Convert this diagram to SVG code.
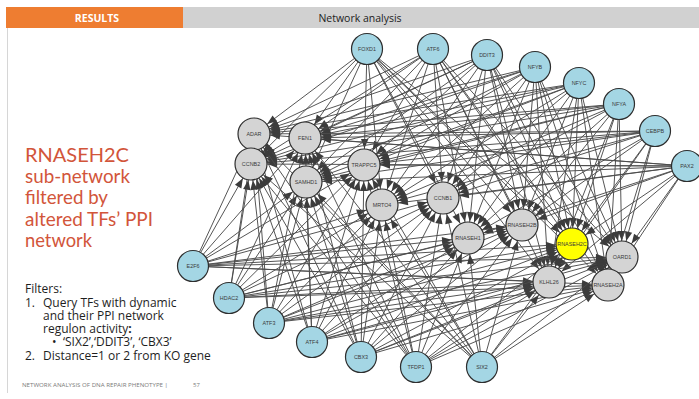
<svg xmlns="http://www.w3.org/2000/svg" width="699" height="399" viewBox="0 0 699 399">
<defs>
<marker id="arr" markerUnits="userSpaceOnUse" markerWidth="10" markerHeight="8" refX="26" refY="3.7" orient="auto" overflow="visible">
<path d="M0,0L9.5,3.7L0,7.4z" fill="#3c3c3c"/>
</marker>
</defs>
<style>
.hd{font-family:"Open Sans","Liberation Sans",sans-serif;font-size:10.5px}
.ttl{font-family:Lato,"Open Sans","Liberation Sans",sans-serif;font-size:20px;fill:#d2553a}
.flt{font-family:"Open Sans","Liberation Sans",sans-serif;font-size:12px;fill:#1e1e1e}
.ft{font-family:"Open Sans","Liberation Sans",sans-serif;font-size:6px;fill:#7a7a7a}
#connectors path{fill:none;stroke:#4c4c4c;stroke-width:0.95;marker-end:url(#arr)}
.tf circle{fill:#a4d6e4;stroke:#2e2e2e;stroke-width:1.2}
.gn circle{fill:#d4d4d4;stroke:#2e2e2e;stroke-width:1.2}
.ko circle{fill:#ffff00;stroke:#2e2e2e;stroke-width:1.2}
.node text{font-family:"Liberation Sans",Arial,sans-serif;font-size:5.4px;fill:#3a3a3a;text-anchor:middle}
</style>
<rect width="699" height="399" fill="#ffffff"/>
<!-- header bar -->
<rect x="6" y="7" width="177" height="21" fill="#ee7d31"/>
<rect x="183" y="7" width="516" height="21" fill="#d1d1d1"/>
<text class="hd" x="97" y="21.5" text-anchor="middle" fill="#ffffff" font-weight="bold">RESULTS</text>
<text class="hd" x="360" y="21.5" text-anchor="middle" fill="#222222">Network analysis</text>
<line x1="7.5" y1="28" x2="7.5" y2="393" stroke="#d6d6d6" stroke-width="1"/>
<!-- title -->
<text class="ttl" x="25" y="162" textLength="104" lengthAdjust="spacingAndGlyphs">RNASEH2C</text>
<text class="ttl" x="25" y="183" textLength="105" lengthAdjust="spacingAndGlyphs">sub-network</text>
<text class="ttl" x="25" y="204" textLength="83" lengthAdjust="spacingAndGlyphs">filtered by</text>
<text class="ttl" x="25" y="225.5" textLength="128" lengthAdjust="spacingAndGlyphs">altered TFs’ PPI</text>
<text class="ttl" x="25" y="247" textLength="67" lengthAdjust="spacingAndGlyphs">network</text>
<!-- filters -->
<text class="flt" x="25" y="293">Filters:</text>
<text class="flt" x="25" y="306.5">1.</text>
<text class="flt" x="43" y="306.5">Query TFs with dynamic</text>
<text class="flt" x="43" y="320">and their PPI network</text>
<text class="flt" x="43" y="333">regulon activity<tspan font-weight="bold">:</tspan></text>
<text class="flt" x="52" y="346">•</text>
<text class="flt" x="63" y="346">‘SIX2’,‘DDIT3’, ‘CBX3’</text>
<text class="flt" x="25" y="360">2.</text>
<text class="flt" x="43" y="360">Distance=1 or 2 from KO gene</text>
<!-- footer -->
<text class="ft" x="22" y="386.5" textLength="146" lengthAdjust="spacingAndGlyphs">NETWORK ANALYSIS OF DNA REPAIR PHENOTYPE |</text>
<text class="ft" x="193" y="386.5">57</text>
<!-- edges: every transcription factor to each target -->
<g id="connectors">
<path d="M367 49L254 134"/><path d="M367 49L305 138"/><path d="M367 49L251 164"/><path d="M367 49L364 165"/><path d="M367 49L306 182"/><path d="M367 49L382 205"/><path d="M367 49L443 198"/><path d="M367 49L468 238"/><path d="M367 49L522 225"/><path d="M367 49L572 244"/><path d="M367 49L622 257"/><path d="M367 49L549 282"/><path d="M367 49L608 285"/>
<path d="M433 49L254 134"/><path d="M433 49L305 138"/><path d="M433 49L251 164"/><path d="M433 49L364 165"/><path d="M433 49L306 182"/><path d="M433 49L382 205"/><path d="M433 49L443 198"/><path d="M433 49L468 238"/><path d="M433 49L522 225"/><path d="M433 49L572 244"/><path d="M433 49L622 257"/><path d="M433 49L549 282"/><path d="M433 49L608 285"/>
<path d="M487 55L254 134"/><path d="M487 55L305 138"/><path d="M487 55L251 164"/><path d="M487 55L364 165"/><path d="M487 55L306 182"/><path d="M487 55L382 205"/><path d="M487 55L443 198"/><path d="M487 55L468 238"/><path d="M487 55L522 225"/><path d="M487 55L572 244"/><path d="M487 55L622 257"/><path d="M487 55L549 282"/><path d="M487 55L608 285"/>
<path d="M535 67L254 134"/><path d="M535 67L305 138"/><path d="M535 67L251 164"/><path d="M535 67L364 165"/><path d="M535 67L306 182"/><path d="M535 67L382 205"/><path d="M535 67L443 198"/><path d="M535 67L468 238"/><path d="M535 67L522 225"/><path d="M535 67L572 244"/><path d="M535 67L622 257"/><path d="M535 67L549 282"/><path d="M535 67L608 285"/>
<path d="M579 83L254 134"/><path d="M579 83L305 138"/><path d="M579 83L251 164"/><path d="M579 83L364 165"/><path d="M579 83L306 182"/><path d="M579 83L382 205"/><path d="M579 83L443 198"/><path d="M579 83L468 238"/><path d="M579 83L522 225"/><path d="M579 83L572 244"/><path d="M579 83L622 257"/><path d="M579 83L549 282"/><path d="M579 83L608 285"/>
<path d="M619 104L254 134"/><path d="M619 104L305 138"/><path d="M619 104L251 164"/><path d="M619 104L364 165"/><path d="M619 104L306 182"/><path d="M619 104L382 205"/><path d="M619 104L443 198"/><path d="M619 104L468 238"/><path d="M619 104L522 225"/><path d="M619 104L572 244"/><path d="M619 104L622 257"/><path d="M619 104L549 282"/><path d="M619 104L608 285"/>
<path d="M655 131L254 134"/><path d="M655 131L305 138"/><path d="M655 131L251 164"/><path d="M655 131L364 165"/><path d="M655 131L306 182"/><path d="M655 131L382 205"/><path d="M655 131L443 198"/><path d="M655 131L468 238"/><path d="M655 131L522 225"/><path d="M655 131L572 244"/><path d="M655 131L622 257"/><path d="M655 131L549 282"/><path d="M655 131L608 285"/>
<path d="M687 166L254 134"/><path d="M687 166L305 138"/><path d="M687 166L251 164"/><path d="M687 166L364 165"/><path d="M687 166L306 182"/><path d="M687 166L382 205"/><path d="M687 166L443 198"/><path d="M687 166L468 238"/><path d="M687 166L522 225"/><path d="M687 166L572 244"/><path d="M687 166L622 257"/><path d="M687 166L549 282"/><path d="M687 166L608 285"/>
<path d="M193 266L254 134"/><path d="M193 266L305 138"/><path d="M193 266L251 164"/><path d="M193 266L364 165"/><path d="M193 266L306 182"/><path d="M193 266L382 205"/><path d="M193 266L443 198"/><path d="M193 266L468 238"/><path d="M193 266L522 225"/><path d="M193 266L572 244"/><path d="M193 266L622 257"/><path d="M193 266L549 282"/><path d="M193 266L608 285"/>
<path d="M229 298L254 134"/><path d="M229 298L305 138"/><path d="M229 298L251 164"/><path d="M229 298L364 165"/><path d="M229 298L306 182"/><path d="M229 298L382 205"/><path d="M229 298L443 198"/><path d="M229 298L468 238"/><path d="M229 298L522 225"/><path d="M229 298L572 244"/><path d="M229 298L622 257"/><path d="M229 298L549 282"/><path d="M229 298L608 285"/>
<path d="M269 323L254 134"/><path d="M269 323L305 138"/><path d="M269 323L251 164"/><path d="M269 323L364 165"/><path d="M269 323L306 182"/><path d="M269 323L382 205"/><path d="M269 323L443 198"/><path d="M269 323L468 238"/><path d="M269 323L522 225"/><path d="M269 323L572 244"/><path d="M269 323L622 257"/><path d="M269 323L549 282"/><path d="M269 323L608 285"/>
<path d="M312 342L254 134"/><path d="M312 342L305 138"/><path d="M312 342L251 164"/><path d="M312 342L364 165"/><path d="M312 342L306 182"/><path d="M312 342L382 205"/><path d="M312 342L443 198"/><path d="M312 342L468 238"/><path d="M312 342L522 225"/><path d="M312 342L572 244"/><path d="M312 342L622 257"/><path d="M312 342L549 282"/><path d="M312 342L608 285"/>
<path d="M361 357L254 134"/><path d="M361 357L305 138"/><path d="M361 357L251 164"/><path d="M361 357L364 165"/><path d="M361 357L306 182"/><path d="M361 357L382 205"/><path d="M361 357L443 198"/><path d="M361 357L468 238"/><path d="M361 357L522 225"/><path d="M361 357L572 244"/><path d="M361 357L622 257"/><path d="M361 357L549 282"/><path d="M361 357L608 285"/>
<path d="M416 367L254 134"/><path d="M416 367L305 138"/><path d="M416 367L251 164"/><path d="M416 367L364 165"/><path d="M416 367L306 182"/><path d="M416 367L382 205"/><path d="M416 367L443 198"/><path d="M416 367L468 238"/><path d="M416 367L522 225"/><path d="M416 367L572 244"/><path d="M416 367L622 257"/><path d="M416 367L549 282"/><path d="M416 367L608 285"/>
<path d="M482 367L254 134"/><path d="M482 367L305 138"/><path d="M482 367L251 164"/><path d="M482 367L364 165"/><path d="M482 367L306 182"/><path d="M482 367L382 205"/><path d="M482 367L443 198"/><path d="M482 367L468 238"/><path d="M482 367L522 225"/><path d="M482 367L572 244"/><path d="M482 367L622 257"/><path d="M482 367L549 282"/><path d="M482 367L608 285"/>
</g>
<!-- transcription factors -->
<g id="FOXD1" class="node tf"><circle cx="367" cy="49" r="15.5"/><text x="367" y="51">FOXD1</text></g>
<g id="ATF6" class="node tf"><circle cx="433" cy="49" r="15.5"/><text x="433" y="51">ATF6</text></g>
<g id="DDIT3" class="node tf"><circle cx="487" cy="55" r="15.5"/><text x="487" y="57">DDIT3</text></g>
<g id="NFYB" class="node tf"><circle cx="535" cy="67" r="15.5"/><text x="535" y="69">NFYB</text></g>
<g id="NFYC" class="node tf"><circle cx="579" cy="83" r="15.5"/><text x="579" y="85">NFYC</text></g>
<g id="NFYA" class="node tf"><circle cx="619" cy="104" r="15.5"/><text x="619" y="106">NFYA</text></g>
<g id="CEBPB" class="node tf"><circle cx="655" cy="131" r="15.5"/><text x="655" y="133">CEBPB</text></g>
<g id="PAX2" class="node tf"><circle cx="687" cy="166" r="15.5"/><text x="687" y="168">PAX2</text></g>
<g id="E2F6" class="node tf"><circle cx="193" cy="266" r="15.5"/><text x="193" y="268">E2F6</text></g>
<g id="HDAC2" class="node tf"><circle cx="229" cy="298" r="15.5"/><text x="229" y="300">HDAC2</text></g>
<g id="ATF3" class="node tf"><circle cx="269" cy="323" r="15.5"/><text x="269" y="325">ATF3</text></g>
<g id="ATF4" class="node tf"><circle cx="312" cy="342" r="15.5"/><text x="312" y="344">ATF4</text></g>
<g id="CBX3" class="node tf"><circle cx="361" cy="357" r="15.5"/><text x="361" y="359">CBX3</text></g>
<g id="TFDP1" class="node tf"><circle cx="416" cy="367" r="15.5"/><text x="416" y="369">TFDP1</text></g>
<g id="SIX2" class="node tf"><circle cx="482" cy="367" r="15.5"/><text x="482" y="369">SIX2</text></g>
<!-- target genes -->
<g id="ADAR" class="node gn"><circle cx="254" cy="134" r="16"/><text x="254" y="136">ADAR</text></g>
<g id="FEN1" class="node gn"><circle cx="305" cy="138" r="16"/><text x="305" y="140">FEN1</text></g>
<g id="CCNB2" class="node gn"><circle cx="251" cy="164" r="16"/><text x="251" y="166">CCNB2</text></g>
<g id="TRAPPC5" class="node gn"><circle cx="364" cy="165" r="16"/><text x="364" y="167">TRAPPC5</text></g>
<g id="SAMHD1" class="node gn"><circle cx="306" cy="182" r="16"/><text x="306" y="184">SAMHD1</text></g>
<g id="MRTO4" class="node gn"><circle cx="382" cy="205" r="16"/><text x="382" y="207">MRTO4</text></g>
<g id="CCNB1" class="node gn"><circle cx="443" cy="198" r="16"/><text x="443" y="200">CCNB1</text></g>
<g id="RNASEH1" class="node gn"><circle cx="468" cy="238" r="16"/><text x="468" y="240">RNASEH1</text></g>
<g id="RNASEH2B" class="node gn"><circle cx="522" cy="225" r="16"/><text x="522" y="227">RNASEH2B</text></g>
<g id="RNASEH2C" class="node ko"><circle cx="572" cy="244" r="16"/><text x="572" y="246">RNASEH2C</text></g>
<g id="OARD1" class="node gn"><circle cx="622" cy="257" r="16"/><text x="622" y="259">OARD1</text></g>
<g id="KLHL26" class="node gn"><circle cx="549" cy="282" r="16"/><text x="549" y="284">KLHL26</text></g>
<g id="RNASEH2A" class="node gn"><circle cx="608" cy="285" r="16"/><text x="608" y="287">RNASEH2A</text></g>
</svg>
